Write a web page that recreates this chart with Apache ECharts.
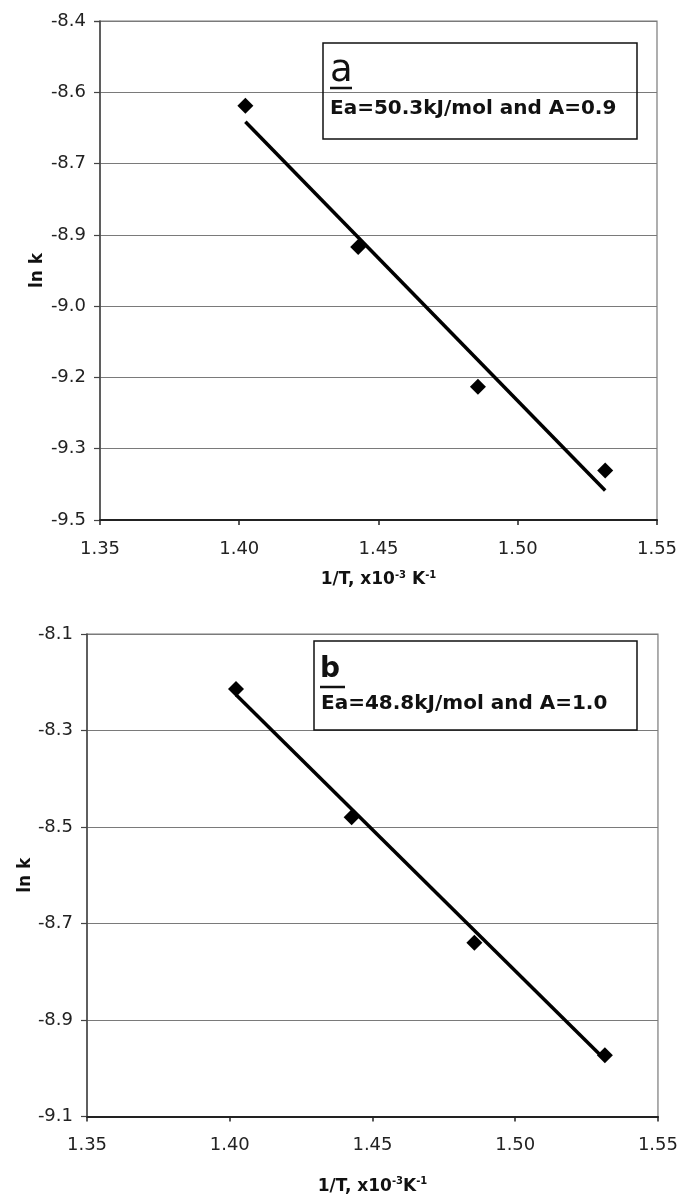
<!DOCTYPE html>
<html>
<head>
<meta charset="utf-8">
<script src="https://cdn.jsdelivr.net/npm/echarts@6/dist/echarts.min.js"></script>
<style>
html,body{margin:0;padding:0;background:#fff;}
#c{width:681px;height:1196px;}
</style>
</head>
<body>
<div id="c"></div>
<script>
// ---- data ----
var xTickLabels = ['1.35', '1.40', '1.45', '1.50', '1.55'];
var yTickLabelsA = ['-9.5', '-9.3', '-9.2', '-9.0', '-8.9', '-8.7', '-8.6', '-8.4'];
var yTickLabelsB = ['-9.1', '-8.9', '-8.7', '-8.5', '-8.3', '-8.1'];

var invT = [1.4022, 1.4427, 1.4857, 1.5314];
var lnkA = [-8.587, -8.898, -9.206, -9.391];
var lnkB = [-8.214, -8.480, -8.740, -8.973];

var fitAx = [1.4022, 1.5314];
var fitAy = [-8.622, -9.435];
var fitBx = [1.4022, 1.5314];
var fitBy = [-8.226, -8.982];

var labelA = 'a';
var textA = 'Ea=50.3kJ/mol and A=0.9';
var labelB = 'b';
var textB = 'Ea=48.8kJ/mol and A=1.0';

// ---- build ----
function pairs(xs, ys) { return xs.map(function (x, i) { return [x, ys[i]]; }); }

var FONT = 'DejaVu Sans';
var chart = echarts.init(document.getElementById('c'), null, { renderer: 'canvas' });

function xAxisCfg(gi, nameGap, nameRich) {
  return {
    type: 'value', gridIndex: gi, min: 1.35, max: 1.55, interval: 0.05,
    axisLine: { show: true, lineStyle: { color: '#222', width: 2 } },
    axisTick: { show: true, length: 5, lineStyle: { color: '#222', width: 1.5 } },
    axisLabel: {
      margin: 20, fontFamily: FONT, fontSize: 18, color: '#222',
      formatter: function (v, i) { return xTickLabels[i]; }
    },
    splitLine: { show: false },
    name: nameRich, nameLocation: 'middle', nameGap: nameGap,
    nameMoveOverlap: false,
    nameTextStyle: {
      fontFamily: FONT, color: '#111',
      rich: {
        b: { fontFamily: FONT, fontWeight: 'bold', fontSize: 17, color: '#111', lineHeight: 20 },
        s: { fontFamily: FONT, fontWeight: 'bold', fontSize: 10, color: '#111', lineHeight: 12, verticalAlign: 'top' }
      }
    }
  };
}
function yAxisCfg(gi, min, max, interval, labels, nameGap) {
  return {
    type: 'value', gridIndex: gi, min: min, max: max, interval: interval,
    axisLine: { show: true, lineStyle: { color: '#444', width: 1.5 } },
    axisTick: { show: true, length: 6, lineStyle: { color: '#444', width: 1.2 } },
    axisLabel: {
      margin: 14, fontFamily: FONT, fontSize: 18, color: '#222',
      formatter: function (v, i) { return labels[i]; }
    },
    splitLine: { show: true, lineStyle: { color: '#7a7a7a', width: 1.2 } },
    name: 'ln k', nameLocation: 'middle', nameGap: nameGap, nameRotate: 90,
    nameMoveOverlap: false,
    nameTextStyle: { fontFamily: FONT, fontWeight: 'bold', fontSize: 17, color: '#111' }
  };
}

var option = {
  backgroundColor: '#fff',
  animation: false,
  grid: [
    { left: 100, right: 24, top: 21, height: 499, show: true, borderColor: '#7a7a7a', borderWidth: 1.2, backgroundColor: 'transparent' },
    { left: 87, right: 23, top: 634, height: 483, show: true, borderColor: '#7a7a7a', borderWidth: 1.2, backgroundColor: 'transparent' }
  ],
  xAxis: [
    xAxisCfg(0, 50, '{b|1/T, x10}{s|-3}{b| K}{s|-1}'),
    xAxisCfg(1, 60, '{b|1/T, x10}{s|-3}{b|K}{s|-1}')
  ],
  yAxis: [
    yAxisCfg(0, -9.5, -8.4, 1.1 / 7, yTickLabelsA, 54),
    yAxisCfg(1, -9.1, -8.1, 0.2, yTickLabelsB, 53)
  ],
  series: [
    { type: 'line', xAxisIndex: 0, yAxisIndex: 0, data: pairs(fitAx, fitAy), showSymbol: false, symbol: 'none',
      lineStyle: { color: '#000', width: 3.5 }, z: 3 },
    { type: 'scatter', xAxisIndex: 0, yAxisIndex: 0, data: pairs(invT, lnkA), symbol: 'diamond', symbolSize: [16, 16],
      itemStyle: { color: '#000', opacity: 1 }, z: 4 },
    { type: 'line', xAxisIndex: 1, yAxisIndex: 1, data: pairs(fitBx, fitBy), showSymbol: false, symbol: 'none',
      lineStyle: { color: '#000', width: 3.5 }, z: 3 },
    { type: 'scatter', xAxisIndex: 1, yAxisIndex: 1, data: pairs(invT, lnkB), symbol: 'diamond', symbolSize: [16, 16],
      itemStyle: { color: '#000', opacity: 1 }, z: 4 }
  ],
  graphic: [
    // box a
    { type: 'rect', shape: { x: 323, y: 43, width: 314, height: 96 }, style: { fill: 'transparent', stroke: '#111', lineWidth: 1.5 }, z: 10 },
    { type: 'text', x: 330, y: 71, style: { text: labelA, fontFamily: FONT, fontSize: 37, fill: '#111', verticalAlign: 'middle', align: 'left' }, z: 10 },
    { type: 'line', shape: { x1: 330, y1: 88, x2: 352, y2: 88 }, style: { stroke: '#111', lineWidth: 2.5 }, z: 10 },
    { type: 'text', x: 330, y: 108.5, style: { text: textA, fontFamily: FONT, fontWeight: 'bold', fontSize: 20, fill: '#111', verticalAlign: 'middle', align: 'left' }, z: 10 },
    // box b
    { type: 'rect', shape: { x: 314, y: 641, width: 323, height: 89 }, style: { fill: 'transparent', stroke: '#111', lineWidth: 1.5 }, z: 10 },
    { type: 'text', x: 320, y: 670, style: { text: labelB, fontFamily: FONT, fontWeight: 'bold', fontSize: 28, fill: '#111', verticalAlign: 'middle', align: 'left' }, z: 10 },
    { type: 'line', shape: { x1: 320, y1: 687, x2: 345, y2: 687 }, style: { stroke: '#111', lineWidth: 2.5 }, z: 10 },
    { type: 'text', x: 321, y: 703.5, style: { text: textB, fontFamily: FONT, fontWeight: 'bold', fontSize: 20, fill: '#111', verticalAlign: 'middle', align: 'left' }, z: 10 }
  ]
};
chart.setOption(option);
</script>
</body>
</html>
